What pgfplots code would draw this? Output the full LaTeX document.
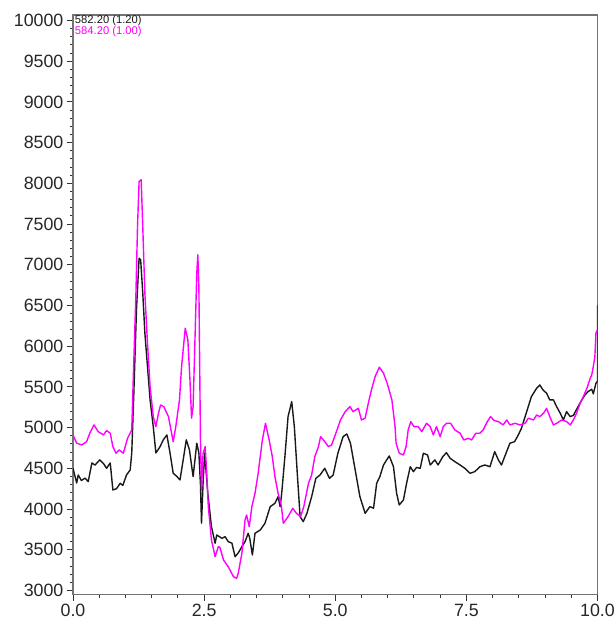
\documentclass[border=0pt]{standalone}
\usepackage{fontspec}
\setmainfont{Liberation Sans}
\usepackage{pgfplots}
\pgfplotsset{compat=1.18}
\definecolor{mag}{RGB}{255,0,255}
\definecolor{blk}{RGB}{25,25,25}
\begin{document}
\begin{tikzpicture}
\path[use as bounding box] (-36.5pt,-13.25pt) rectangle (270.5pt,297.25pt);
\begin{axis}[
  at={(0pt,0pt)}, anchor=south west,
  scale only axis, width=262.25pt, height=289.75pt,
  xmin=0, xmax=10, ymin=2950, ymax=10068,
  xtick={0,2.5,5,7.5,10}, minor x tick num=4,
  ytick={3000,3500,...,10000}, minor y tick num=4,
  scaled y ticks=false, scaled x ticks=false,
  tick align=outside, xtick pos=left, ytick pos=left,
  major tick length=3pt, minor tick length=1.6pt,
  every tick/.style={black!80, line width=0.5pt},
  axis line style={black!55, line width=0.7pt},
  /pgf/number format/assume math mode=true,
  xticklabel style={/pgf/number format/fixed, /pgf/number format/fixed zerofill, /pgf/number format/precision=1, inner ysep=1.5pt},
  yticklabel style={/pgf/number format/fixed, /pgf/number format/1000 sep={}, inner xsep=1.6pt},
  tick label style={font=\fontsize{8.9}{10}\selectfont, text=black!85},
]
\addplot[blk, line width=0.7pt, line join=round] coordinates {
(0.00,4500) (0.07,4320) (0.10,4418) (0.16,4350) (0.23,4380) (0.29,4336) (0.36,4566) (0.42,4540)
(0.51,4603) (0.58,4560) (0.64,4500) (0.71,4566) (0.76,4234) (0.83,4250) (0.90,4316) (0.95,4290)
(1.02,4418) (1.09,4480) (1.12,4688) (1.16,5425) (1.21,6446) (1.26,7081) (1.29,7060) (1.33,6655)
(1.37,6164) (1.42,5750) (1.47,5340) (1.53,5012) (1.58,4688) (1.66,4766) (1.72,4848) (1.79,4910)
(1.85,4688) (1.91,4440) (1.98,4400) (2.04,4357) (2.10,4600) (2.16,4850) (2.22,4726) (2.29,4398)
(2.36,4808) (2.40,4688) (2.43,4300) (2.45,3825) (2.48,4320) (2.51,4688) (2.57,4193) (2.64,3783)
(2.71,3579) (2.74,3681) (2.84,3640) (2.90,3660) (2.96,3599) (3.03,3580) (3.09,3414) (3.15,3460)
(3.22,3537) (3.28,3599) (3.34,3702) (3.37,3640) (3.42,3435) (3.47,3702) (3.57,3742) (3.66,3825)
(3.76,4029) (3.85,4070) (3.91,4152) (3.95,4029) (3.98,4200) (4.04,4643) (4.10,5135) (4.17,5319)
(4.22,5012) (4.28,4398) (4.33,3906) (4.39,3845) (4.46,3947) (4.55,4152) (4.63,4377) (4.71,4418)
(4.80,4500) (4.89,4377) (4.96,4418) (5.05,4685) (5.15,4889) (5.22,4922) (5.29,4808) (5.38,4480)
(5.47,4152) (5.57,3947) (5.66,4029) (5.73,4010) (5.79,4316) (5.85,4398) (5.92,4541) (5.98,4603)
(6.03,4652) (6.11,4520) (6.17,4193) (6.22,4050) (6.30,4111) (6.36,4316) (6.43,4520) (6.49,4459)
(6.55,4510) (6.62,4500) (6.68,4685) (6.76,4664) (6.81,4541) (6.90,4603) (6.96,4541) (7.05,4643)
(7.12,4692) (7.19,4623) (7.28,4582) (7.38,4541) (7.47,4500) (7.57,4439) (7.66,4459) (7.76,4520)
(7.85,4541) (7.95,4520) (8.04,4705) (8.11,4603) (8.17,4541) (8.23,4643) (8.33,4808) (8.42,4828)
(8.49,4910) (8.55,4992) (8.62,5135) (8.68,5258) (8.74,5381) (8.84,5484) (8.90,5524) (8.96,5463)
(9.03,5422) (9.09,5340) (9.16,5340) (9.22,5258) (9.29,5176) (9.35,5094) (9.41,5196) (9.48,5135)
(9.54,5150) (9.63,5258) (9.70,5340) (9.76,5401) (9.82,5442) (9.89,5471) (9.92,5414) (9.97,5545)
(10.0,5570) (10.0,6500)
};
\addplot[mag, line width=0.7pt, line join=round] coordinates {
(0.00,4910) (0.07,4808) (0.17,4787) (0.26,4828) (0.32,4931) (0.40,5033) (0.48,4951) (0.58,4910)
(0.64,4963) (0.71,4931) (0.76,4766) (0.82,4685) (0.88,4726) (0.96,4685) (1.04,4869) (1.12,4971)
(1.15,5627) (1.20,6651) (1.23,7470) (1.26,8023) (1.30,8044) (1.33,7470) (1.37,6651) (1.42,6037)
(1.47,5503) (1.53,5135) (1.58,5012) (1.63,5176) (1.67,5278) (1.73,5258) (1.82,5135) (1.88,4931)
(1.91,4828) (1.96,5012) (2.03,5340) (2.07,5749) (2.14,6221) (2.19,6077) (2.23,5586) (2.26,5115)
(2.29,5258) (2.32,5954) (2.36,6897) (2.38,7122) (2.40,6733) (2.43,4848) (2.45,4234) (2.48,4685)
(2.52,4766) (2.55,4439) (2.58,4029) (2.64,3619) (2.71,3414) (2.77,3537) (2.80,3530) (2.87,3374)
(2.96,3291) (3.06,3168) (3.12,3148) (3.15,3210) (3.22,3456) (3.28,3865) (3.31,3927) (3.36,3783)
(3.41,4029) (3.47,4193) (3.53,4439) (3.61,4848) (3.67,5053) (3.74,4848) (3.80,4643) (3.85,4398)
(3.91,4193) (3.97,4050) (4.01,3825) (4.10,3906) (4.19,4009) (4.26,3947) (4.34,3906) (4.40,4029)
(4.49,4316) (4.55,4418) (4.61,4643) (4.68,4766) (4.72,4889) (4.80,4828) (4.87,4766) (4.93,4787)
(5.00,4910) (5.10,5094) (5.19,5196) (5.28,5258) (5.34,5196) (5.44,5237) (5.50,5094) (5.57,5115)
(5.63,5299) (5.69,5463) (5.76,5627) (5.84,5742) (5.92,5668) (5.99,5545) (6.08,5340) (6.14,5012)
(6.16,4808) (6.22,4685) (6.30,4664) (6.35,4766) (6.39,4971) (6.44,5074) (6.50,5012) (6.58,5012)
(6.65,4951) (6.74,5053) (6.81,5012) (6.87,4910) (6.93,5012) (7.00,4889) (7.06,5012) (7.12,5053)
(7.20,5053) (7.28,4971) (7.38,4931) (7.45,4848) (7.54,4869) (7.60,4848) (7.68,4931) (7.76,4931)
(7.82,4971) (7.90,5074) (7.96,5135) (8.03,5086) (8.11,5074) (8.20,5033) (8.27,5094) (8.33,5033)
(8.43,5053) (8.52,5033) (8.62,5053) (8.68,5115) (8.78,5094) (8.84,5155) (8.90,5135) (8.97,5176)
(9.03,5237) (9.09,5135) (9.16,5033) (9.22,5053) (9.32,5094) (9.41,5074) (9.48,5033) (9.54,5094)
(9.60,5176) (9.67,5299) (9.73,5381) (9.81,5503) (9.86,5606) (9.89,5647) (9.92,5749) (9.95,5872)
(9.97,6160) (10.0,6200)
};
\node[anchor=west, inner sep=0pt, text=blk, font=\fontsize{5.6}{6}\selectfont] at (rel axis cs:0.003,0.991) {582.20 (1.20)};
\node[anchor=west, inner sep=0pt, text=mag, font=\fontsize{5.6}{6}\selectfont] at (rel axis cs:0.003,0.971) {584.20 (1.00)};
\end{axis}
\end{tikzpicture}
\end{document}
